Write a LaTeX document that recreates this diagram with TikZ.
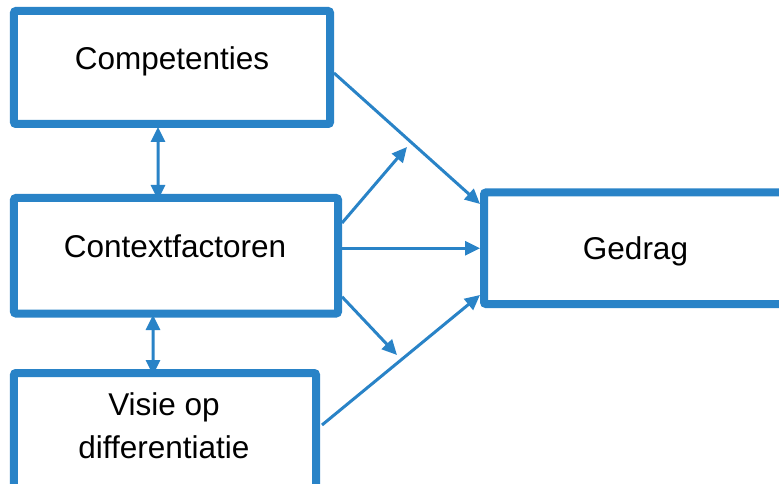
\documentclass[tikz,border=0pt]{standalone}
\usepackage{fontspec}
\setmainfont{Liberation Sans}
\usetikzlibrary{arrows.meta,calc}
\definecolor{bblue}{RGB}{41,131,199}
\begin{document}
\begin{tikzpicture}[x=1bp,y=1bp,
  box/.style={draw=bblue,line width=8bp,rounded corners=2bp,inner sep=0pt,fill=white},
  lbl/.style={font=\fontsize{31.5bp}{43bp}\selectfont,inner sep=0pt,text=black},
  conn/.style={draw=bblue,line width=3bp,-{Triangle[length=15bp,width=14bp]}},
  dconn/.style={draw=bblue,line width=3bp,{Triangle[length=15bp,width=14bp]}-{Triangle[length=15bp,width=14bp]}}]
\useasboundingbox (0,0) rectangle (779,-484);
\clip (0,0) rectangle (779,-484);
% boxes
\node[box,minimum width=316bp,minimum height=113bp] (comp) at (172,-67.5) {};
\node[box,minimum width=324bp,minimum height=115.5bp] (ctx) at (176,-255.75) {};
\node[box,minimum width=302bp,minimum height=140bp] (visie) at (165,-443) {};
\node[box,minimum width=302bp,minimum height=111.5bp] (gedrag) at (635,-248.25) {};
% labels
\node[lbl,anchor=base] (tcomp) at (172,-70) {Competenties};
\node[lbl,anchor=base] (tctx) at (175,-258) {Contextfactoren};
\node[lbl,anchor=base] (tged) at (635.5,-260) {Gedrag};
\node[lbl,anchor=base,align=center] (tvis) at (164,-458) {Visie op\\differentiatie};
% free ends
\coordinate (up) at (407,-147);
\coordinate (dn) at (397,-355);
% connectors
\draw[conn] ([yshift=-5.5bp]comp.east) -- ([yshift=-15.5bp]gedrag.north west);
\draw[conn] (ctx.east |- gedrag.west) -- (gedrag.west);
\draw[conn] ([yshift=32.75bp]ctx.east) -- (up);
\draw[conn] ([yshift=-41bp]ctx.east) -- (dn);
\draw[conn] ([xshift=2bp,yshift=-56bp]visie.north east) -- ([yshift=13bp]gedrag.south west);
\draw[dconn] ([xshift=-14bp,yshift=1bp]comp.south) -- ([xshift=-18bp,yshift=-6bp]ctx.north);
\draw[dconn] ([xshift=-23bp,yshift=2.5bp]ctx.south) -- ([xshift=-12bp,yshift=-6bp]visie.north);
\end{tikzpicture}
\end{document}
